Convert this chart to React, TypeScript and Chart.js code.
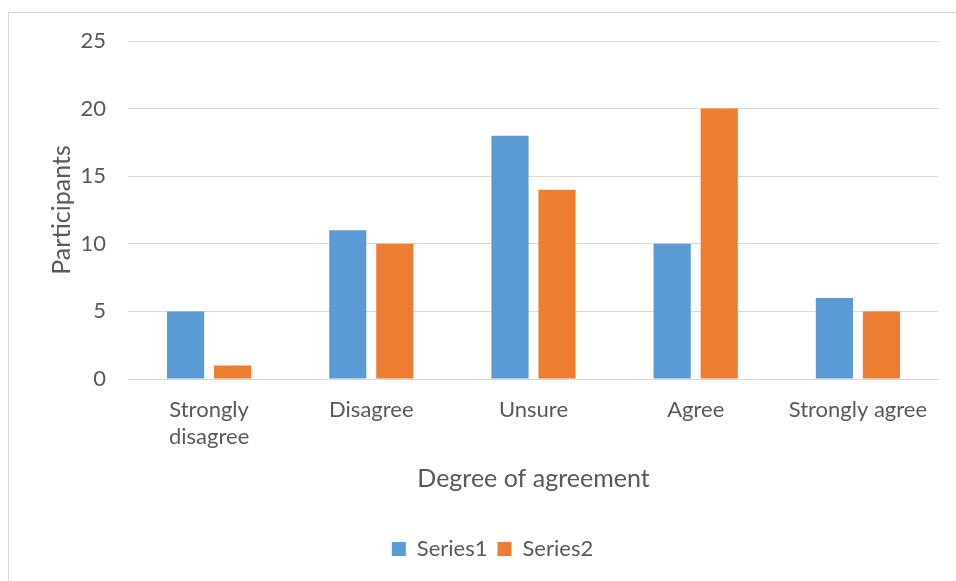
import React, { useEffect, useRef } from "react";
import { Chart, registerables } from "chart.js";

Chart.register(...registerables);

const categories: (string | string[])[] = [
  ["Strongly", "disagree"],
  "Disagree",
  "Unsure",
  "Agree",
  "Strongly agree",
];
const series1: number[] = [5, 11, 18, 10, 6];
const series2: number[] = [1, 10, 14, 20, 5];
const seriesNames: string[] = ["Series1", "Series2"];
const yTicks: number[] = [0, 5, 10, 15, 20, 25];
const xTitle = "Degree of agreement";
const yTitle = "Participants";

const FONT = "Lato, 'Open Sans', sans-serif";
const TEXT = "#595959";
const GRID = "#d9d9d9";

export default function App() {
  const ref = useRef<HTMLCanvasElement | null>(null);
  useEffect(() => {
    if (!ref.current) return;
    const chart = new Chart(ref.current, {
      type: "bar",
      data: {
        labels: categories,
        datasets: [
          {
            label: seriesNames[0],
            data: series1,
            backgroundColor: "#5b9bd5",
            categoryPercentage: 0.58,
            barPercentage: 0.79,
          },
          {
            label: seriesNames[1],
            data: series2,
            backgroundColor: "#ed7d31",
            categoryPercentage: 0.58,
            barPercentage: 0.79,
          },
        ],
      },
      options: {
        animation: false,
        responsive: false,
        maintainAspectRatio: false,
        layout: { padding: { left: 46, right: 17, top: 41, bottom: 11 } },
        plugins: {
          tooltip: { enabled: false },
          legend: {
            position: "bottom",
            labels: {
              boxWidth: 14,
              boxHeight: 14,
              color: TEXT,
              font: { family: FONT, size: 22 },
              padding: 10,
            },
          },
        },
        scales: {
          x: {
            grid: { display: false, drawTicks: false },
            border: { display: false },
            ticks: {
              color: TEXT,
              font: { family: FONT, size: 22, lineHeight: 1.25 },
              padding: 17,
              maxRotation: 0,
              autoSkip: false,
            },
            title: {
              display: true,
              text: xTitle,
              color: TEXT,
              font: { family: FONT, size: 25, lineHeight: 1.2 },
              padding: { top: 4, bottom: 34 },
            },
            afterFit: (s: any) => {
              s.height = 149;
            },
          },
          y: {
            min: 0,
            max: 25,
            afterBuildTicks: (s: any) => {
              s.ticks = yTicks.map((v) => ({ value: v }));
            },
            grid: { color: GRID, lineWidth: 1, drawTicks: false },
            border: { display: false },
            ticks: {
              color: TEXT,
              font: { family: FONT, size: 22 },
              padding: 22,
            },
            title: {
              display: true,
              text: yTitle,
              color: TEXT,
              font: { family: FONT, size: 25, lineHeight: 1.2 },
              padding: { top: 1, bottom: 4 },
            },
            afterFit: (s: any) => {
              s.width = 82;
            },
          },
        },
      },
    });
    return () => chart.destroy();
  }, []);
  return (
    <>
      <div
        style={{
          position: "fixed",
          left: 8,
          top: 12,
          width: 980,
          height: 600,
          border: "1px solid #d9d9d9",
          boxSizing: "border-box",
        }}
      />
      <canvas
        ref={ref}
        width={956}
        height={581}
        style={{ position: "fixed", left: 0, top: 0, width: 956, height: 581 }}
      />
    </>
  );
}
